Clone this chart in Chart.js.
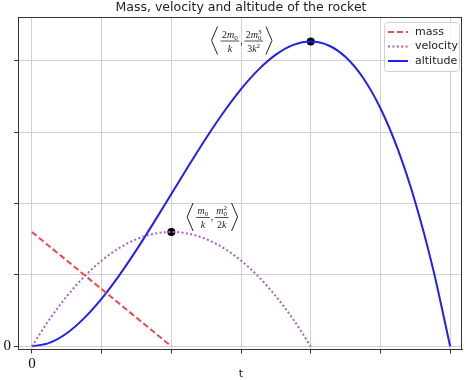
<!DOCTYPE html>
<html>
<head>
<meta charset="utf-8">
<script src="https://cdn.jsdelivr.net/npm/chart.js@4"></script>
<style>
  html, body { margin: 0; padding: 0; background: #fff; }
  #wrap { width: 466px; height: 380px; }
</style>
</head>
<body>
<div id="wrap"><canvas id="chart"></canvas></div>
<script>
// values (t in grid units)
const massT = [0, 2];
const mass = [1.6, 0];

const velT = [0, 0.25, 0.5, 0.75, 1, 1.25, 1.5, 1.75, 2, 2.25, 2.5, 2.75, 3, 3.25, 3.5, 3.75, 4];
const velocity = [0, 0.375, 0.7, 0.975, 1.2, 1.375, 1.5, 1.575, 1.6, 1.575, 1.5, 1.375, 1.2, 0.975, 0.7, 0.375, 0];

const altT = [0, 0.25, 0.5, 0.75, 1, 1.25, 1.5, 1.75, 2, 2.25, 2.5, 2.75, 3,
              3.25, 3.5, 3.75, 4, 4.25, 4.5, 4.75, 5, 5.25, 5.5, 5.75, 6];
const altitude = [0, 0.048, 0.183, 0.394, 0.667, 0.99, 1.35, 1.735, 2.133, 2.531, 2.917, 3.277, 3.6,
                  3.873, 4.083, 4.219, 4.267, 4.215, 4.05, 3.76, 3.333, 2.756, 2.017, 1.102, 0];

const peakT = [2, 4];
const peakY = [1.6, 4.267];

const xTicks = [0, 1, 2, 3, 4, 5, 6];
const yTicks = [0, 1, 2, 3, 4];
const xLabels = ['0', '', '', '', '', '', ''];
const yLabels = ['0', '', '', '', ''];

const pts = (xs, ys) => xs.map((x, i) => ({ x: x, y: ys[i] }));

// math pieces for the two annotations: [text, style, sup]
const annos = [
  { dx: 41, dy: -15, parts: [
    { num: [['m', 'i'], ['0', 'sub']], den: [['k', 'i']] },
    { num: [['m', 'i'], ['0', 'sub', '2']], den: [['2', ''], ['k', 'i']] }
  ] },
  { dx: -69, dy: -1, parts: [
    { num: [['2', ''], ['m', 'i'], ['0', 'sub']], den: [['k', 'i']] },
    { num: [['2', ''], ['m', 'i'], ['0', 'sub', '3']], den: [['3', ''], ['k', 'i'], ['2', 'sup']] }
  ] }
];

const SERIF = '"Liberation Serif", "DejaVu Serif", serif';
const SANS = '"DejaVu Sans", sans-serif';

function runWidth(ctx, run, size) {
  let w = 0;
  run.forEach(p => {
    if (p[1] === 'sub' || p[1] === 'sup') {
      ctx.font = (size * 0.7) + 'px ' + SERIF;
      w += Math.max(ctx.measureText(p[0]).width, p[2] ? ctx.measureText(p[2]).width : 0);
    } else {
      ctx.font = (p[1] === 'i' ? 'italic ' : '') + size + 'px ' + SERIF;
      w += ctx.measureText(p[0]).width;
    }
  });
  return w;
}

function drawRun(ctx, run, x, y, size) {
  run.forEach(p => {
    if (p[1] === 'sub' || p[1] === 'sup') {
      ctx.font = (size * 0.7) + 'px ' + SERIF;
      let w = ctx.measureText(p[0]).width;
      if (p[1] === 'sub') ctx.fillText(p[0], x, y + size * 0.2);
      else ctx.fillText(p[0], x, y - size * 0.38);
      if (p[2]) {
        ctx.fillText(p[2], x, y - size * 0.38);
        w = Math.max(w, ctx.measureText(p[2]).width);
      }
      x += w;
    } else {
      ctx.font = (p[1] === 'i' ? 'italic ' : '') + size + 'px ' + SERIF;
      ctx.fillText(p[0], x, y);
      x += ctx.measureText(p[0]).width;
    }
  });
}

const overlay = {
  id: 'overlay',
  afterDraw(chart) {
    const ctx = chart.ctx;
    const area = chart.chartArea;
    const xs = chart.scales.x, ys = chart.scales.y;
    ctx.save();

    // frame
    ctx.strokeStyle = '#333';
    ctx.lineWidth = 1;
    ctx.strokeRect(Math.round(area.left) + 0.5, Math.round(area.top) + 0.5,
      Math.round(area.right - area.left) - 1, Math.round(area.bottom - area.top) - 1);

    // title and axis label
    ctx.fillStyle = '#222';
    ctx.textAlign = 'center';
    ctx.textBaseline = 'middle';
    ctx.font = '12.5px ' + SANS;
    ctx.fillText('Mass, velocity and altitude of the rocket', 241, 8);
    ctx.font = '11px ' + SANS;
    ctx.fillText('t', 241, 374);

    // annotations
    const size = 10;
    annos.forEach((a, i) => {
      const cx = xs.getPixelForValue(peakT[i]) + a.dx;
      const cy = ys.getPixelForValue(peakY[i]) + a.dy;
      const ws = a.parts.map(f => Math.max(runWidth(ctx, f.num, size), runWidth(ctx, f.den, size)) + 3);
      const gap = 5, brW = 6, brPad = 3;
      const total = ws[0] + ws[1] + gap + 2 * (brW + brPad);
      let x = cx - total / 2;
      ctx.strokeStyle = '#222';
      ctx.lineWidth = 1;
      ctx.beginPath();
      ctx.moveTo(x + brW, cy - 14); ctx.lineTo(x, cy); ctx.lineTo(x + brW, cy + 14);
      ctx.stroke();
      x += brW + brPad;
      ctx.textAlign = 'left';
      ctx.textBaseline = 'alphabetic';
      a.parts.forEach((f, j) => {
        const w = ws[j];
        ctx.beginPath();
        ctx.moveTo(x, cy + 0.5); ctx.lineTo(x + w, cy + 0.5);
        ctx.lineWidth = 0.8;
        ctx.stroke();
        const nw = runWidth(ctx, f.num, size), dw = runWidth(ctx, f.den, size);
        drawRun(ctx, f.num, x + (w - nw) / 2, cy - 3, size);
        drawRun(ctx, f.den, x + (w - dw) / 2, cy + 11, size);
        x += w;
        if (j === 0) {
          ctx.font = size + 'px ' + SERIF;
          ctx.fillText(',', x + 1, cy + 3);
          x += gap;
        }
      });
      x += brPad;
      ctx.lineWidth = 1;
      ctx.beginPath();
      ctx.moveTo(x, cy - 14); ctx.lineTo(x + brW, cy); ctx.lineTo(x, cy + 14);
      ctx.stroke();
    });

    // legend
    const lx = 384, ly = 22, lw = 75, lh = 49;
    ctx.fillStyle = 'rgba(255,255,255,0.85)';
    ctx.strokeStyle = '#d0d0d0';
    ctx.lineWidth = 1;
    ctx.beginPath();
    ctx.roundRect(lx + 0.5, ly + 0.5, lw, lh, 3);
    ctx.fill();
    ctx.stroke();
    ctx.font = '11px ' + SANS;
    ctx.textAlign = 'left';
    ctx.textBaseline = 'middle';
    chart.data.datasets.slice(0, 3).forEach((ds, i) => {
      const y = 32 + i * 14.5;
      ctx.strokeStyle = ds.borderColor;
      ctx.lineWidth = ds.borderWidth;
      ctx.setLineDash(ds.borderDash || []);
      ctx.beginPath();
      ctx.moveTo(388, y); ctx.lineTo(408, y);
      ctx.stroke();
      ctx.setLineDash([]);
      ctx.fillStyle = '#222';
      ctx.fillText(ds.label, 415, y);
    });
    ctx.restore();
  }
};

new Chart(document.getElementById('chart'), {
  type: 'line',
  data: {
    datasets: [
      { label: 'mass', data: pts(massT, mass), borderColor: '#f04848', borderWidth: 2, borderDash: [6, 3] },
      { label: 'velocity', data: pts(velT, velocity), borderColor: '#b05cc8', borderWidth: 2, borderDash: [2, 2.4], cubicInterpolationMode: 'monotone' },
      { label: 'altitude', data: pts(altT, altitude), borderColor: '#2020f0', borderWidth: 2, cubicInterpolationMode: 'monotone' },
      { label: 'peaks', data: pts(peakT, peakY), showLine: false, pointRadius: 4, borderWidth: 0, backgroundColor: '#000', borderColor: '#000' }
    ]
  },
  options: {
    responsive: true,
    maintainAspectRatio: false,
    animation: false,
    layout: { padding: { top: 17, right: 4, left: 0, bottom: 0 } },
    elements: { point: { radius: 0 }, line: { fill: false } },
    plugins: { legend: { display: false }, tooltip: { enabled: false } },
    scales: {
      x: {
        type: 'linear',
        min: -0.2,
        max: 6.17,
        afterBuildTicks: s => { s.ticks = xTicks.map(v => ({ value: v })); },
        afterFit: s => { s.height = 30.5; },
        ticks: {
          callback: (v, i) => xLabels[i],
          font: { family: SERIF, size: 15 },
          color: '#111',
          padding: 2,
          maxRotation: 0
        },
        grid: { color: '#d0d0d0', tickLength: 4, tickColor: '#333' },
        border: { color: '#333' }
      },
      y: {
        min: -0.045,
        max: 4.61,
        afterBuildTicks: s => { s.ticks = yTicks.map(v => ({ value: v })); },
        afterFit: s => { s.width = 18; },
        ticks: {
          callback: (v, i) => yLabels[i],
          font: { family: SERIF, size: 15 },
          color: '#111',
          padding: 3
        },
        grid: { color: '#d0d0d0', tickLength: 4, tickColor: '#333' },
        border: { color: '#333' }
      }
    }
  },
  plugins: [overlay]
});
</script>
</body>
</html>
